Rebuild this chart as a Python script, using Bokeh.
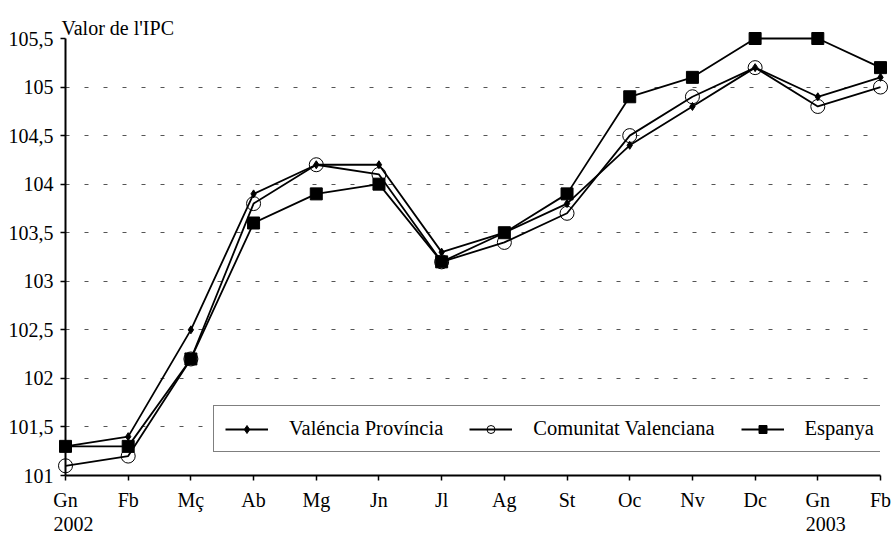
from bokeh.plotting import figure
from bokeh.models import FixedTicker, CustomJSTickFormatter, Range1d
from bokeh.core.properties import value
from bokeh.embed import file_html
from bokeh.resources import INLINE

months = ["Gn", "Fb", "Mç", "Ab", "Mg", "Jn", "Jl", "Ag", "St", "Oc", "Nv", "Dc", "Gn", "Fb"]
years = ["2002", "2003"]
year_positions = [0, 12]

valencia = [101.3, 101.4, 102.5, 103.9, 104.2, 104.2, 103.3, 103.5, 103.8, 104.4, 104.8, 105.2, 104.9, 105.1]
comunitat = [101.1, 101.2, 102.2, 103.8, 104.2, 104.1, 103.2, 103.4, 103.7, 104.5, 104.9, 105.2, 104.8, 105.0]
espanya = [101.3, 101.3, 102.2, 103.6, 103.9, 104.0, 103.2, 103.5, 103.9, 104.9, 105.1, 105.5, 105.5, 105.2]

y_ticks = [101.0, 101.5, 102.0, 102.5, 103.0, 103.5, 104.0, 104.5, 105.0, 105.5]
y_title = "Valor de l'IPC"

FONT = "Liberation Serif"
FS = "20px"

x = list(range(len(months)))

p = figure(width=891, height=533,
           min_border_left=65, min_border_right=11, min_border_top=38, min_border_bottom=58,
           x_range=Range1d(0, len(months) - 1), y_range=Range1d(y_ticks[0], y_ticks[-1]),
           output_backend="svg", toolbar_location=None)
p.outline_line_color = None
p.background_fill_color = "white"
p.border_fill_color = "white"

# grid
p.xgrid.grid_line_color = None
p.ygrid.grid_line_color = "#555555"
p.ygrid.grid_line_dash = "4 15"
p.ygrid.grid_line_width = 1

# axes
for ax in (p.xaxis[0], p.yaxis[0]):
    ax.axis_line_color = "black"
    ax.axis_line_width = 2
    ax.major_tick_line_color = "black"
    ax.major_tick_line_width = 1.5
    ax.major_tick_out = 5
    ax.major_tick_in = 0
    ax.minor_tick_line_color = None
    ax.major_label_text_font = FONT
    ax.major_label_text_font_size = FS
    ax.major_label_text_color = "black"

p.xaxis.ticker = FixedTicker(ticks=x)
p.xaxis.major_label_overrides = {i: m for i, m in enumerate(months)}
p.xaxis.major_label_standoff = 8
p.yaxis.ticker = FixedTicker(ticks=y_ticks)
p.yaxis.formatter = CustomJSTickFormatter(code="return tick.toString().replace('.', ',')")
p.yaxis.major_label_standoff = 7

# series
LW = 1.8
r1 = p.line(x, valencia, line_color="black", line_width=LW, legend_label="Valéncia Província")
r2 = p.scatter(x, valencia, marker="diamond", size=8, fill_color="black", line_color="black",
               legend_label="Valéncia Província")
r3 = p.line(x, comunitat, line_color="black", line_width=LW, legend_label="Comunitat Valenciana")
r4 = p.scatter(x, comunitat, marker="circle", size=14, fill_color=None, line_color="black",
               line_width=1, legend_label="Comunitat Valenciana")
r5 = p.line(x, espanya, line_color="black", line_width=LW, legend_label="Espanya")
r6 = p.scatter(x, espanya, marker="square", size=12, fill_color="black", line_color="black",
               legend_label="Espanya")

# axis title and year labels (text glyphs so they are not clipped to the frame)
r7 = p.text(x=[0], y=[y_ticks[-1]], text=[y_title], x_offset=-4, y_offset=-11,
            text_font=value(FONT), text_font_size=FS, text_baseline="alphabetic",
            text_align="left", text_color="black")
r8 = p.text(x=year_positions, y=[y_ticks[0]] * len(years), text=years, x_offset=-12, y_offset=55,
            text_font=value(FONT), text_font_size=FS, text_baseline="bottom",
            text_align="left", text_color="black")
for r in (r1, r2, r3, r4, r5, r6, r7, r8):
    r.level = "overlay"

# legend
lg = p.legend[0]
lg.location = (148, 23)
lg.orientation = "horizontal"
lg.label_text_font = FONT
lg.label_text_font_size = "20.5px"
lg.label_text_color = "black"
lg.glyph_width = 43
lg.glyph_height = 20
lg.label_height = 20
lg.label_standoff = 21
lg.spacing = 26
lg.padding = 11
lg.margin = 0
lg.border_line_color = "black"
lg.border_line_width = 1.5
lg.background_fill_color = "white"
lg.background_fill_alpha = 1

open("out.html", "w").write(file_html(p, INLINE))
